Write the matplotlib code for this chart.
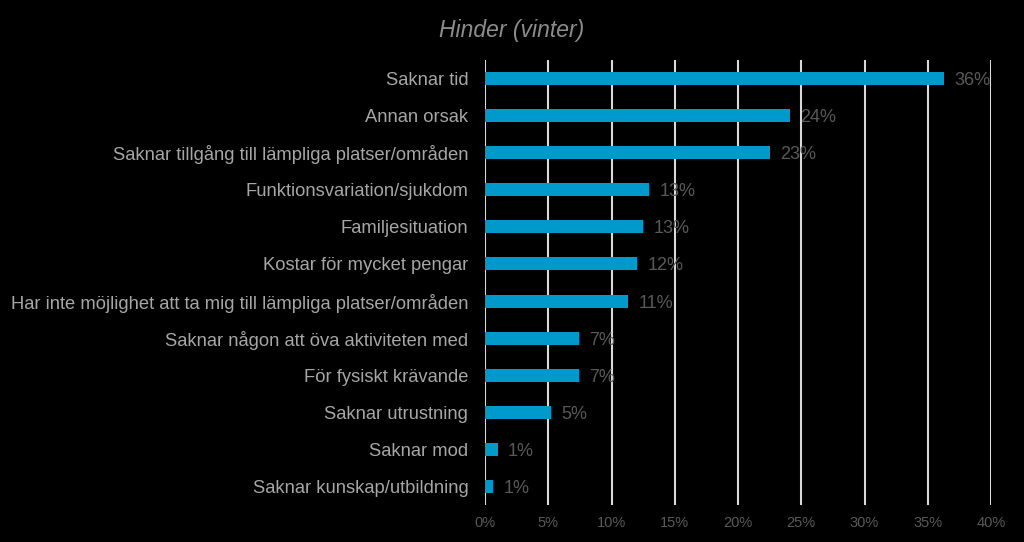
import matplotlib
matplotlib.use("Agg")
import matplotlib.pyplot as plt
from matplotlib.ticker import PercentFormatter

plt.rcParams['font.family'] = ['Liberation Sans', 'DejaVu Sans']

categories = [
    "Saknar tid",
    "Annan orsak",
    "Saknar tillgång till lämpliga platser/områden",
    "Funktionsvariation/sjukdom",
    "Familjesituation",
    "Kostar för mycket pengar",
    "Har inte möjlighet att ta mig till lämpliga platser/områden",
    "Saknar någon att öva aktiviteten med",
    "För fysiskt krävande",
    "Saknar utrustning",
    "Saknar mod",
    "Saknar kunskap/utbildning",
]
values = [36.3, 24.1, 22.5, 13.0, 12.5, 12.0, 11.3, 7.4, 7.4, 5.2, 1.0, 0.65]
labels = ["36%", "24%", "23%", "13%", "13%", "12%", "11%", "7%", "7%", "5%", "1%", "1%"]
xticks = [0, 5, 10, 15, 20, 25, 30, 35, 40]
title = "Hinder (vinter)"

fig = plt.figure(figsize=(10.24, 5.42), dpi=100, facecolor='black')
ax = fig.add_axes([485/1024, 1-505/542, (991-485)/1024, 445/542])
ax.set_facecolor('black')

ypos = list(range(len(categories)))
ax.barh(ypos, values, height=0.35, color='#0099CC', zorder=3)
ax.set_ylim(len(categories)-0.5, -0.5)
ax.set_yticks(ypos)
ax.set_yticklabels(categories, color='#A6A6A6', fontsize=13.2)
ax.set_xlim(0, 40)
ax.set_xticks(xticks)
ax.xaxis.set_major_formatter(PercentFormatter(decimals=0))
ax.tick_params(axis='x', colors='#595959', labelsize=10.5, length=0, pad=8)
ax.tick_params(axis='y', length=0, pad=12)
for lab in ax.get_xticklabels():
    lab.set_color('#595959')
ax.grid(axis='x', color='#D9D9D9', linewidth=1.5, zorder=1)
for s in ax.spines.values():
    s.set_visible(False)

for y, v, l in zip(ypos, values, labels):
    ax.annotate(l, xy=(v, y), xytext=(7.5, 0), textcoords='offset points',
                va='center_baseline', ha='left', color='#595959', fontsize=13, zorder=4)

fig.text(0.5, 1-30/542, title, ha='center', va='center', color='#8C8C8C',
         fontsize=16.5, fontstyle='italic')

fig.savefig('out.png', dpi=100, facecolor='black')
